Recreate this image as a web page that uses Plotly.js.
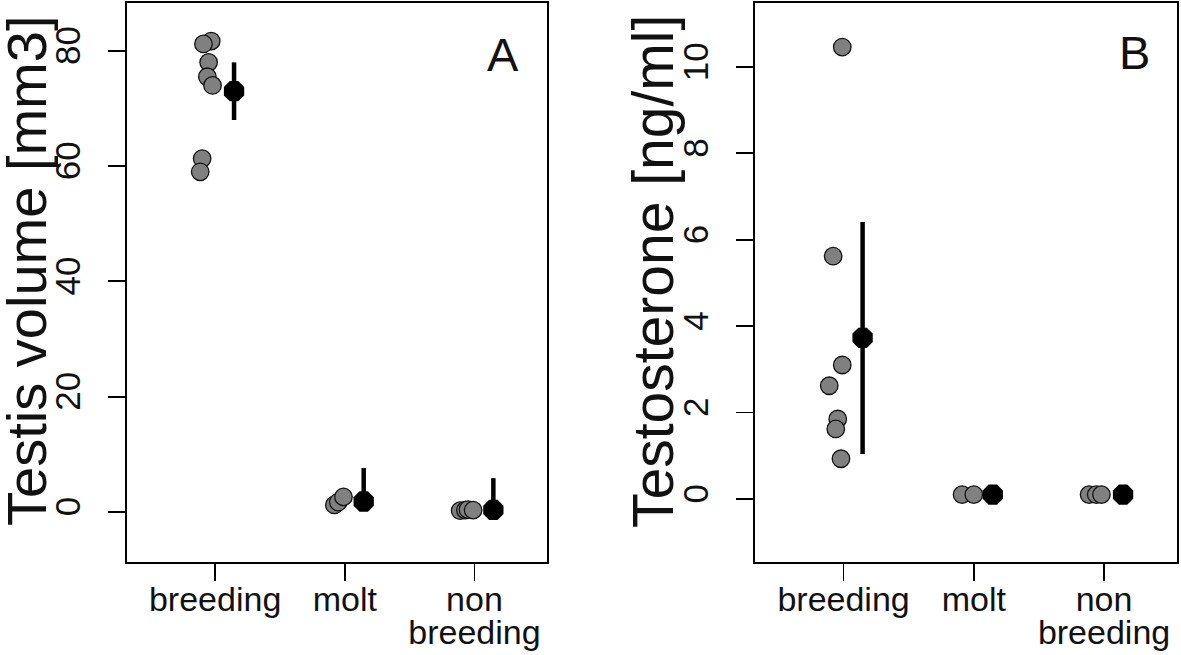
<!DOCTYPE html>
<html>
<head>
<meta charset="utf-8">
<script src="https://cdn.plot.ly/plotly-3.0.1.min.js"></script>
<style>html,body{margin:0;padding:0;background:#fff;}#chart{width:1181px;height:655px;}</style>
</head>
<body>
<div id="chart"></div>
<script>
// Categories
const categories = ["breeding", "molt", "non<br>breeding"];
const categoryIndex = [1, 2, 3];

// Axis titles and panel labels
const titleA = "Testis volume [mm3]";
const titleB = "Testosterone [ng/ml]";
const panelLabels = ["A", "B"];

// Panel A: testis volume [mm3] individual values
const testisBreeding = [81.7, 81.2, 78.0, 75.5, 74.0, 61.3, 59.0];
const testisMolt = [1.2, 1.7, 2.6];
const testisNonBreeding = [0.2, 0.3, 0.4, 0.3];
// horizontal jitter of individual points (category units)
const testisJitterBreeding = [-0.03, -0.09, -0.05, -0.06, -0.02, -0.10, -0.115];
const testisJitterMolt = [-0.08, -0.05, -0.01];
const testisJitterNonBreeding = [-0.11, -0.07, -0.05, -0.01];
// means and error bar extents
const testisMean = [73.0, 1.8, 0.35];
const testisErrPlus = [5.0, 5.8, 5.5];
const testisErrMinus = [5.0, 0.5, 0.3];
const testisTicks = [0, 20, 40, 60, 80];

// Panel B: testosterone [ng/ml]
const testoBreeding = [10.46, 5.62, 3.10, 2.62, 1.85, 1.62, 0.93];
const testoMolt = [0.1, 0.1];
const testoNonBreeding = [0.1, 0.1, 0.1];
const testoJitterBreeding = [-0.01, -0.08, -0.01, -0.11, -0.045, -0.06, -0.02];
const testoJitterMolt = [-0.09, 0.0];
const testoJitterNonBreeding = [-0.115, -0.06, -0.02];
const testoMean = [3.73, 0.1, 0.1];
const testoErrPlus = [2.68, 0.05, 0.05];
const testoErrMinus = [2.69, 0.05, 0.05];
const testoTicks = [0, 2, 4, 6, 8, 10];

const meanOffset = 0.146;

function pointsTrace(groups, jitters, xa, ya) {
  const x = [], y = [];
  groups.forEach((vals, g) => {
    vals.forEach((v, i) => { x.push(categoryIndex[g] + jitters[g][i]); y.push(v); });
  });
  return {
    type: 'scatter', mode: 'markers', x: x, y: y, xaxis: xa, yaxis: ya,
    marker: {size: 17.5, color: '#808080', line: {color: '#111', width: 1.3}},
    hoverinfo: 'y', showlegend: false
  };
}
function meanTrace(means, plus, minus, xa, ya) {
  return {
    type: 'scatter', mode: 'markers',
    x: categoryIndex.map(c => c + meanOffset), y: means, xaxis: xa, yaxis: ya,
    marker: {size: 22, color: '#000', symbol: 'octagon', line: {width: 0}},
    error_y: {type: 'data', symmetric: false, array: plus, arrayminus: minus,
              color: '#000', thickness: 4.5, width: 0},
    hoverinfo: 'y', showlegend: false
  };
}

const data = [
  pointsTrace([testisBreeding, testisMolt, testisNonBreeding],
              [testisJitterBreeding, testisJitterMolt, testisJitterNonBreeding], 'x', 'y'),
  meanTrace(testisMean, testisErrPlus, testisErrMinus, 'x', 'y'),
  pointsTrace([testoBreeding, testoMolt, testoNonBreeding],
              [testoJitterBreeding, testoJitterMolt, testoJitterNonBreeding], 'x2', 'y2'),
  meanTrace(testoMean, testoErrPlus, testoErrMinus, 'x2', 'y2')
];

const font = 'Liberation Sans, Arial, sans-serif';
function xAxis(domain, anchor) {
  return {
    domain: domain, anchor: anchor, range: [0.32, 3.56],
    tickmode: 'array', tickvals: categoryIndex, ticktext: categories,
    ticks: 'outside', ticklen: 17, tickwidth: 1.8, tickcolor: '#000',
    ticklabelstandoff: -11,
    showline: true, linecolor: '#000', linewidth: 2, mirror: true,
    showgrid: false, zeroline: false,
    tickfont: {family: font, size: 34, color: '#111'}
  };
}
function yAxis(range, tickvals, anchor) {
  return {
    anchor: anchor, domain: [0, 1], range: range,
    tickmode: 'array', tickvals: tickvals, ticktext: tickvals.map(String),
    tickangle: -90,
    ticks: 'outside', ticklen: 17, tickwidth: 1.8, tickcolor: '#000',
    ticklabelstandoff: 14,
    showline: true, linecolor: '#000', linewidth: 2, mirror: true,
    showgrid: false, zeroline: false,
    tickfont: {family: font, size: 35, color: '#111'}
  };
}

const layout = {
  width: 1181, height: 655,
  margin: {l: 0, r: 0, t: 3, b: 93},
  paper_bgcolor: '#fff', plot_bgcolor: '#fff',
  xaxis: xAxis([0.1075, 0.4632], 'y'),
  yaxis: yAxis([-8.7, 88.3], testisTicks, 'x'),
  xaxis2: xAxis([0.6393, 0.9966], 'y2'),
  yaxis2: yAxis([-1.46, 11.48], testoTicks, 'x2'),
  annotations: [
    {text: titleA, textangle: -90, xref: 'paper', yref: 'paper', x: 0.0225, y: 0.52,
     xanchor: 'center', yanchor: 'middle', showarrow: false,
     font: {family: font, size: 56, color: '#111'}},
    {text: titleB, textangle: -90, xref: 'paper', yref: 'paper', x: 0.5535, y: 0.52,
     xanchor: 'center', yanchor: 'middle', showarrow: false,
     font: {family: font, size: 57, color: '#111'}},
    {text: panelLabels[0], xref: 'paper', yref: 'paper', x: 0.426, y: 0.907,
     xanchor: 'center', yanchor: 'middle', showarrow: false,
     font: {family: font, size: 47, color: '#111'}},
    {text: panelLabels[1], xref: 'paper', yref: 'paper', x: 0.961, y: 0.912,
     xanchor: 'center', yanchor: 'middle', showarrow: false,
     font: {family: font, size: 47, color: '#111'}}
  ],
  showlegend: false
};

Plotly.newPlot('chart', data, layout, {displayModeBar: false, staticPlot: true}).then(() => {
  // tighten line spacing of two-line category labels (R-like)
  document.querySelectorAll('.xtick text tspan.line, .x2tick text tspan.line').forEach(t => {
    if (parseFloat(t.getAttribute('dy')) > 0) t.setAttribute('dy', '0.97em');
  });
});
</script>
</body>
</html>
